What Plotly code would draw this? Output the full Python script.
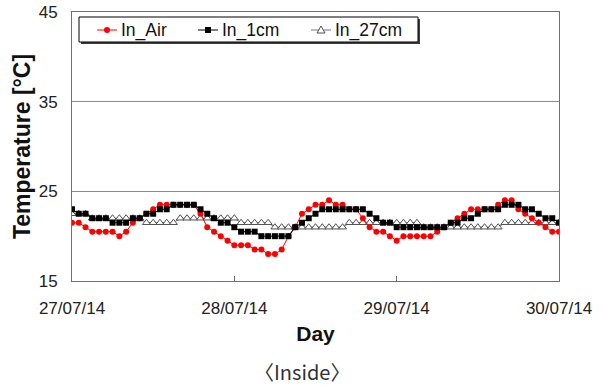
import pandas as pd
import plotly.graph_objects as go

# Hourly readings, 27/07/14 00:00 to 30/07/14 00:00
times = pd.date_range("2014-07-27 00:00", "2014-07-30 00:00", freq="h")

in_air = [21.5, 21.5, 21.0, 20.5, 20.5, 20.5, 20.5, 20.0, 20.5, 21.5,
          22.0, 22.5, 23.0, 23.5, 23.5, 23.5, 23.5, 23.5, 23.5, 22.5,
          21.0, 20.5, 20.0, 19.5, 19.0, 19.0, 19.0, 18.5, 18.5, 18.0,
          18.0, 18.5, 20.0, 21.0, 22.5, 23.0, 23.5, 23.5, 24.0, 23.5,
          23.5, 23.0, 23.0, 22.0, 21.0, 20.5, 20.5, 20.0, 19.5, 20.0,
          20.0, 20.0, 20.0, 20.0, 20.5, 21.0, 21.5, 22.0, 22.5, 23.0,
          23.0, 23.0, 23.0, 23.5, 24.0, 24.0, 23.0, 22.5, 22.0, 21.5,
          21.0, 20.5, 20.5]

in_1cm = [23.0, 22.5, 22.5, 22.0, 22.0, 22.0, 21.5, 21.5, 21.5, 22.0,
          22.0, 22.5, 22.5, 23.0, 23.0, 23.5, 23.5, 23.5, 23.5, 23.0,
          22.5, 22.0, 21.5, 21.5, 21.0, 20.5, 20.5, 20.5, 20.0, 20.0,
          20.0, 20.0, 20.0, 21.0, 21.5, 22.0, 22.5, 23.0, 23.0, 23.0,
          23.0, 23.0, 23.0, 23.0, 22.5, 22.0, 21.5, 21.5, 21.0, 21.0,
          21.0, 21.0, 21.0, 21.0, 21.0, 21.0, 21.5, 21.5, 22.0, 22.0,
          22.5, 23.0, 23.0, 23.0, 23.5, 23.5, 23.5, 23.0, 23.0, 22.5,
          22.0, 22.0, 21.5]

in_27cm = [22.5, 22.5, 22.5, 22.0, 22.0, 22.0, 22.0, 22.0, 22.0, 22.0,
           22.0, 21.5, 21.5, 21.5, 21.5, 21.5, 22.0, 22.0, 22.0, 22.0,
           22.0, 22.0, 22.0, 22.0, 22.0, 21.5, 21.5, 21.5, 21.5, 21.5,
           21.0, 21.0, 21.0, 21.0, 21.0, 21.0, 21.0, 21.0, 21.0, 21.0,
           21.0, 21.5, 21.5, 21.5, 21.5, 21.5, 21.5, 21.5, 21.5, 21.5,
           21.5, 21.5, 21.0, 21.0, 21.0, 21.0, 21.0, 21.0, 21.0, 21.0,
           21.0, 21.0, 21.0, 21.0, 21.5, 21.5, 21.5, 21.5, 21.5, 21.5,
           21.5, 21.5, 21.5]

series_names = ["In_Air", "In_1cm", "In_27cm"]
day_ticks = ["2014-07-27", "2014-07-28", "2014-07-29", "2014-07-30"]
day_labels = ["27/07/14", "28/07/14", "29/07/14", "30/07/14"]
temp_ticks = [15, 25, 35, 45]

FONT = "Liberation Sans, Arial, sans-serif"
W, H = 604, 389
ML, MR, MT, MB = 72, 45, 12, 108
PW, PH = W - ML - MR, H - MT - MB


def px(xp):
    """page pixel column -> paper x"""
    return (xp - ML) / PW


def py(yp):
    """page pixel row -> paper y"""
    return (H - MB - yp) / PH


AIR = dict(line=dict(color="#ff0000", width=1),
           marker=dict(symbol="circle", size=6, color="#ff0000"))
CM1 = dict(line=dict(color="#000000", width=1),
           marker=dict(symbol="square", size=6, color="#000000"))
CM27 = dict(line=dict(color="#8c8c8c", width=1.2),
            marker=dict(symbol="triangle-up", size=7, color="white",
                        line=dict(color="#505050", width=1)))

fig = go.Figure()
fig.add_trace(go.Scatter(x=times, y=in_27cm, name=series_names[2], mode="lines+markers", **CM27))
fig.add_trace(go.Scatter(x=times, y=in_air, name=series_names[0], mode="lines+markers", **AIR))
fig.add_trace(go.Scatter(x=times, y=in_1cm, name=series_names[1], mode="lines+markers", **CM1))

fig.update_xaxes(
    range=[times[0], times[-1]], automargin=False,
    tickvals=day_ticks, ticktext=day_labels,
    ticks="inside", ticklen=5, tickcolor="#707070",
    showgrid=False, showline=True, linecolor="#707070", linewidth=1, mirror=True,
    tickfont=dict(family=FONT, size=17, color="#222"),
    ticklabelstandoff=12,
    title=dict(text="<b>Day</b>", font=dict(family=FONT, size=21, color="#111"), standoff=8),
)
fig.update_yaxes(
    range=[15, 45], tickvals=temp_ticks, automargin=False,
    ticks="", showgrid=True, gridcolor="#8a8a8a", gridwidth=1,
    showline=True, linecolor="#707070", linewidth=1, mirror=True,
    tickfont=dict(family=FONT, size=17, color="#222"),
    ticklabelstandoff=10,
    title=dict(text="<b>Temperature [°C]</b>", font=dict(family=FONT, size=23, color="#111"), standoff=1),
)

# legend box with a drop shadow
shapes = [
    dict(type="rect", xref="paper", yref="paper", x0=px(81), x1=px(420), y0=py(44), y1=py(19),
         fillcolor="#404040", line=dict(width=0), layer="above"),
    dict(type="rect", xref="paper", yref="paper", x0=px(79), x1=px(418), y0=py(42), y1=py(17),
         fillcolor="white", line=dict(color="#000", width=1), layer="above"),
]
annotations = []
key_y = py(30)
key_spec = [(series_names[0], 97, 117, AIR, "circle"),
            (series_names[1], 198, 218, CM1, "square"),
            (series_names[2], 311, 331, CM27, "triangle")]
for name, k0, k1, style, kind in key_spec:
    shapes.append(dict(type="line", xref="paper", yref="paper", x0=px(k0), x1=px(k1),
                       y0=key_y, y1=key_y, line=style["line"], layer="above"))
    xc = px((k0 + k1) / 2)
    mk = style["marker"]
    edge = mk.get("line", {}).get("color", mk["color"])
    if kind == "circle":
        shapes.append(dict(type="circle", xref="paper", yref="paper", xsizemode="pixel",
                           ysizemode="pixel", xanchor=xc, yanchor=key_y,
                           x0=-3, x1=3, y0=-3, y1=3, fillcolor=mk["color"],
                           line=dict(width=0), layer="above"))
    elif kind == "square":
        shapes.append(dict(type="rect", xref="paper", yref="paper", xsizemode="pixel",
                           ysizemode="pixel", xanchor=xc, yanchor=key_y,
                           x0=-3, x1=3, y0=-3, y1=3, fillcolor=mk["color"],
                           line=dict(width=0), layer="above"))
    else:
        shapes.append(dict(type="path", xref="paper", yref="paper", xsizemode="pixel",
                           ysizemode="pixel", xanchor=xc, yanchor=key_y,
                           path="M -4,-3 L 4,-3 L 0,4 Z", fillcolor="white",
                           line=dict(color=edge, width=1), layer="above"))
    annotations.append(dict(text=name, xref="paper", yref="paper", x=px(k1 + 2), y=key_y,
                            xanchor="left", yanchor="middle", showarrow=False,
                            font=dict(family=FONT, size=17.5, color="#111")))

annotations.append(dict(text="〈Inside〉", xref="paper", yref="paper",
                        x=px(302), y=py(372), xanchor="center", yanchor="middle",
                        showarrow=False,
                        font=dict(family="Noto Sans CJK KR", size=20, color="#333")))

fig.update_layout(
    width=W, height=H,
    margin=dict(l=ML, r=MR, t=MT, b=MB),
    paper_bgcolor="white", plot_bgcolor="white",
    showlegend=False,
    shapes=shapes, annotations=annotations,
)

fig.write_html("out.html")
